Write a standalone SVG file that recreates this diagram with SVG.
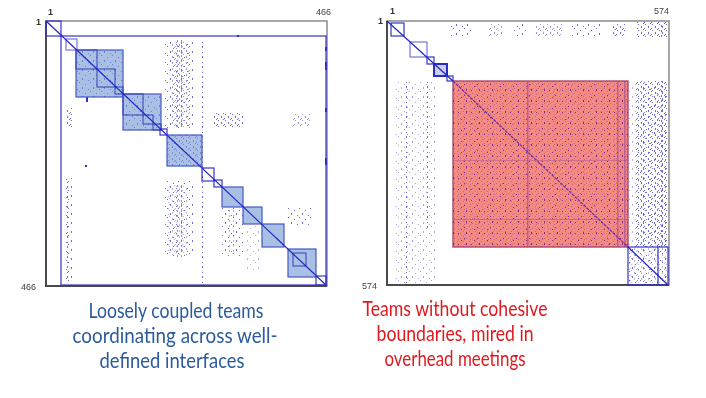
<svg xmlns="http://www.w3.org/2000/svg" width="706" height="398" viewBox="0 0 706 398">
<style>
.frame{fill:none;stroke:#8c8c8c;stroke-width:1.5}
.axis{fill:none;stroke:#4a4a4a;stroke-width:2}
.bl{fill:none;stroke:#3434c8;stroke-width:1.2}
.lt{fill:none;stroke:#7676dc;stroke-width:1.2}
.blk{fill:#a9c0e4;stroke:#4658c4;stroke-width:1.2}
.sub{fill:none;stroke:#3040bb;stroke-width:1}
.num{font-family:"Liberation Sans",Arial,sans-serif;font-size:9px;fill:#444}
.numb{font-family:"Liberation Sans",Arial,sans-serif;font-size:9px;font-weight:bold;fill:#333}
.cap{font-family:Lato,"Open Sans",sans-serif;font-size:22px;text-anchor:middle}
.diag{stroke:#2222c4;stroke-width:1.2}
.dots{opacity:0.7}
</style>
<defs>
<pattern id="pA" width="7" height="6" patternUnits="userSpaceOnUse"><path d="M1 0h1v1h-1zM4 2h1v2h-1zM0 4h1v1h-1zM6 5h1v1h-1z" fill="#2e2ec8"/></pattern>
<pattern id="pB" width="11" height="9" patternUnits="userSpaceOnUse"><path d="M2 1h1v1h-1zM8 3h1v1h-1zM5 6h1v2h-1zM0 8h1v1h-1z" fill="#2e2ec8"/></pattern>
<pattern id="pC" width="4" height="5" patternUnits="userSpaceOnUse"><path d="M1 0h1v2h-1z" fill="#2e2ec8"/></pattern>
<pattern id="pE" width="3" height="10" patternUnits="userSpaceOnUse"><path d="M1 2h1v1h-1zM1 6h1v2h-1z" fill="#2e2ec8"/></pattern>
<pattern id="pR" width="6" height="5" patternUnits="userSpaceOnUse"><path d="M1 1h1v1h-1zM4 3h1v1h-1zM2 4h1v1h-1z" fill="#7a2aa0"/></pattern>
<pattern id="pR2" width="13" height="11" patternUnits="userSpaceOnUse"><path d="M3 2h1v1h-1zM9 7h1v1h-1zM6 9h1v1h-1zM11 1h1v2h-1z" fill="#5a1a90"/></pattern>
</defs>

<g id="left-matrix">
  <rect class="frame" x="46" y="21" width="281" height="265"/>
  <path class="axis" d="M46 21V286H327"/>
  <rect class="bl" x="46" y="21" width="15" height="15"/>
  <rect class="bl" x="61" y="36" width="265" height="249"/>
  <g id="left-dots" class="dots">
    <rect x="163" y="40" width="32" height="88" fill="url(#pB)"/>
    <rect x="170" y="42" width="20" height="86" fill="url(#pA)" opacity="0.7"/>
    <rect x="177" y="38" width="6" height="92" fill="url(#pC)" opacity="0.8"/>
    <rect x="202" y="40" width="2" height="246" fill="url(#pE)"/>
    <rect x="163" y="180" width="32" height="78" fill="url(#pB)"/>
    <rect x="168" y="185" width="20" height="70" fill="url(#pA)" opacity="0.5"/>
    <rect x="177" y="182" width="5" height="75" fill="url(#pC)" opacity="0.7"/>
    <rect x="66" y="108" width="8" height="20" fill="url(#pA)"/>
    <rect x="66" y="178" width="8" height="104" fill="url(#pB)"/>
    <rect x="67" y="178" width="3" height="100" fill="url(#pE)"/>
    <rect x="213" y="113" width="30" height="14" fill="url(#pA)"/>
    <rect x="293" y="114" width="18" height="12" fill="url(#pA)" opacity="0.7"/>
    <rect x="222" y="208" width="22" height="50" fill="url(#pB)"/>
    <rect x="226" y="210" width="8" height="45" fill="url(#pC)" opacity="0.5"/>
    <rect x="287" y="208" width="25" height="17" fill="url(#pB)"/>
    <rect x="245" y="225" width="15" height="45" fill="url(#pB)" opacity="0.5"/>
  </g>
  <g id="left-marks" fill="#2e2ec8">
    <rect x="85" y="165" width="2" height="2"/>
    <rect x="325" y="47" width="2" height="4"/>
    <rect x="325" y="62" width="2" height="8"/>
    <rect x="325" y="108" width="2" height="4"/>
    <rect x="325" y="158" width="2" height="7"/>
    <rect x="237" y="35" width="2" height="2"/>
    <rect x="86" y="96" width="2" height="6"/>
  </g>
  <g id="left-blocks">
    <rect class="lt" x="66" y="39" width="11" height="11"/>
    <rect class="blk" x="76" y="50" width="47" height="47"/>
    <rect class="sub" x="76" y="50" width="21" height="19"/>
    <rect class="sub" x="97" y="69" width="18" height="18"/>
    <rect class="sub" x="115" y="87" width="8" height="7"/>
    <rect class="blk" x="123" y="94" width="38" height="36"/>
    <rect class="sub" x="123" y="94" width="20" height="21"/>
    <rect class="sub" x="143" y="115" width="10" height="9"/>
    <rect class="sub" x="153" y="124" width="8" height="6"/>
    <rect class="bl" x="160" y="129" width="7" height="6"/>
    <rect class="blk" x="167" y="135" width="35" height="31"/>
    <rect class="bl" x="202" y="168" width="12" height="13" stroke-width="1.6"/>
    <rect class="bl" x="214" y="180" width="8" height="7"/>
    <rect class="blk" x="222" y="187" width="21" height="20"/>
    <rect class="blk" x="243" y="207" width="19" height="17"/>
    <rect class="blk" x="262" y="224" width="22" height="23"/>
    <rect class="blk" x="288" y="249" width="28" height="28"/>
    <rect class="sub" x="293" y="253" width="13" height="13"/>
    <rect class="bl" x="316" y="276" width="10" height="9"/>
    <rect x="76" y="50" width="47" height="47" fill="url(#pB)" opacity="0.45"/>
    <rect x="123" y="94" width="38" height="36" fill="url(#pB)" opacity="0.45"/>
    <rect x="167" y="135" width="35" height="31" fill="url(#pA)" opacity="0.4"/>
  </g>
  <line class="diag" x1="46" y1="21" x2="326" y2="285"/>
  <text class="numb" x="48" y="15">1</text>
  <text class="numb" x="36" y="25">1</text>
  <text class="num" x="316" y="15">466</text>
  <text class="num" x="21" y="290">466</text>
</g>

<g id="right-matrix">
  <rect class="frame" x="387" y="21" width="282" height="264"/>
  <path class="axis" d="M387 21V285H669"/>
  <g id="right-dots" class="dots">
    <rect x="450" y="24" width="22" height="12" fill="url(#pB)"/>
    <rect x="488" y="24" width="14" height="12" fill="url(#pA)" opacity="0.7"/>
    <rect x="512" y="24" width="16" height="12" fill="url(#pB)"/>
    <rect x="534" y="24" width="28" height="12" fill="url(#pA)" opacity="0.7"/>
    <rect x="572" y="24" width="30" height="12" fill="url(#pB)"/>
    <rect x="612" y="24" width="14" height="12" fill="url(#pA)"/>
    <rect x="637" y="22" width="31" height="16" fill="url(#pA)"/>
    <rect x="659" y="22" width="6" height="16" fill="url(#pC)"/>
    <rect x="636" y="81" width="32" height="166" fill="url(#pA)"/>
    <rect x="636" y="81" width="32" height="166" fill="url(#pB)"/>
    <rect x="659" y="81" width="5" height="166" fill="url(#pC)"/>
    <rect x="646" y="81" width="3" height="166" fill="url(#pC)"/>
    <rect x="629" y="81" width="7" height="166" fill="url(#pB)" opacity="0.5"/>
    <rect x="395" y="81" width="40" height="204" fill="url(#pB)" opacity="0.6"/>
    <rect x="404" y="81" width="3" height="204" fill="url(#pE)"/>
    <rect x="426" y="81" width="4" height="150" fill="url(#pE)"/>
    <rect x="629" y="248" width="39" height="37" fill="url(#pB)"/>
    <rect x="629" y="248" width="39" height="37" fill="url(#pA)" opacity="0.5"/>
  </g>
  <g id="right-blocks">
    <rect class="bl" x="391" y="23" width="13" height="13" stroke-width="1.5"/>
    <rect class="lt" x="410" y="42" width="17" height="15"/>
    <rect class="bl" x="427" y="57" width="7" height="7"/>
    <rect x="434" y="64" width="13" height="12" fill="#c8d0f2" stroke="#2a2ad0" stroke-width="2"/>
    <rect class="bl" x="447" y="76" width="6" height="5"/>
    <rect x="453" y="81" width="175" height="166" fill="#f58a80" stroke="#a04068" stroke-width="1.3"/>
    <rect x="453" y="81" width="175" height="166" fill="url(#pR)" opacity="0.4"/>
    <rect x="453" y="81" width="175" height="166" fill="url(#pR2)" opacity="0.8"/>
    <rect x="527" y="81" width="1.5" height="166" fill="#8a3aa0" opacity="0.55"/>
    <rect x="617" y="81" width="1.5" height="166" fill="#8a3aa0" opacity="0.5"/>
    <rect x="624" y="81" width="1.5" height="166" fill="#8a3aa0" opacity="0.5"/>
    <rect x="453" y="160" width="175" height="1" fill="#8a3aa0" opacity="0.35"/>
    <rect x="453" y="219" width="175" height="1" fill="#8a3aa0" opacity="0.35"/>
    <rect class="bl" x="628" y="247" width="40" height="38"/>
    <line class="bl" x1="658" y1="247" x2="658" y2="285"/>
  </g>
  <line class="diag" x1="387" y1="21" x2="453" y2="81"/>
  <line x1="453" y1="81" x2="628" y2="247" stroke="#6a2aa0" stroke-width="1.2" stroke-dasharray="3 1"/>
  <line class="diag" x1="628" y1="247" x2="668" y2="285"/>
  <text class="numb" x="390" y="14">1</text>
  <text class="numb" x="378" y="24">1</text>
  <text class="num" x="654" y="14">574</text>
  <text class="num" x="362" y="289">574</text>
</g>

<g id="captions">
  <text class="cap" fill="#2b5b9c" x="176" y="318" textLength="175" lengthAdjust="spacingAndGlyphs">Loosely coupled teams</text>
  <text class="cap" fill="#2b5b9c" x="175" y="343" textLength="205" lengthAdjust="spacingAndGlyphs">coordinating across well-</text>
  <text class="cap" fill="#2b5b9c" x="172" y="368" textLength="145" lengthAdjust="spacingAndGlyphs">defined interfaces</text>
  <text class="cap" fill="#e0191e" x="455" y="316" textLength="185" lengthAdjust="spacingAndGlyphs">Teams without cohesive</text>
  <text class="cap" fill="#e0191e" x="455" y="341" textLength="157" lengthAdjust="spacingAndGlyphs">boundaries, mired in</text>
  <text class="cap" fill="#e0191e" x="455" y="366" textLength="141" lengthAdjust="spacingAndGlyphs">overhead meetings</text>
</g>
</svg>
